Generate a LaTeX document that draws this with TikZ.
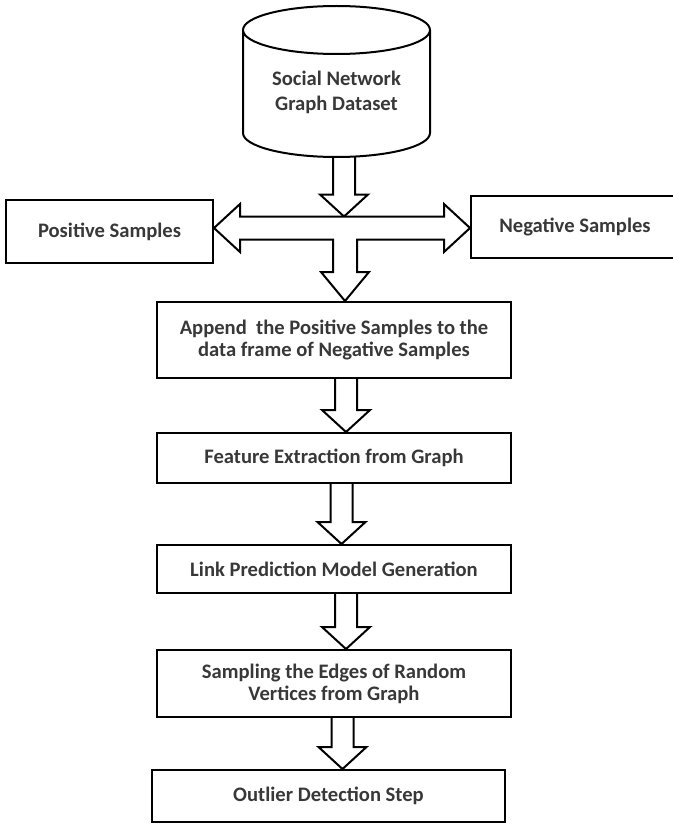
\documentclass[tikz,border=0pt]{standalone}
\usepackage{fontspec}
\setmainfont{Carlito}
\usetikzlibrary{calc,backgrounds}

\tikzset{
  stepbox/.style={draw=black, line width=1pt, rectangle, align=center, inner sep=2pt,
    font=\bfseries\fontsize{10.3}{11}\selectfont, text=black!78},
  dbbox/.style={rectangle, minimum width=93.5pt, minimum height=75.5pt, inner sep=0pt, outer sep=0pt},
  dbtext/.style={align=center, inner sep=0pt,
    font=\bfseries\fontsize{10.3}{12.5}\selectfont, text=black!78},
  fatarrow/.style={draw=black, line width=1pt, fill=white, line join=miter,
    to path={let \p1=(\tikztostart), \p2=(\tikztotarget) in
      (\x1-5.5pt,\y1) -- (\x1-5.5pt,\y2+11pt) -- (\x1-12pt,\y2+11pt) -- (\x1,\y2)
      -- (\x1+12pt,\y2+11pt) -- (\x1+5.5pt,\y2+11pt) -- (\x1+5.5pt,\y1)}}
}

\begin{document}
\begin{tikzpicture}[x=0.5pt,y=-0.5pt]
\useasboundingbox (0,0) rectangle (673,829);
\node[dbbox, anchor=south] (data) at (336.5,157) {};
% dataset drum
\draw[line width=1pt, line join=round] ([yshift=-12pt]data.north west) -- ([yshift=12pt]data.south west)
  arc[start angle=180, end angle=360, x radius=46.75pt, y radius=12pt]
  -- ([yshift=-12pt]data.north east)
  arc[start angle=0, end angle=360, x radius=46.75pt, y radius=12pt];
\node[dbtext] (datalabel) at (336.5,92.5) {Social Network\\Graph Dataset};
\node[stepbox, minimum width=103.5pt, minimum height=31.5pt] (pos) at (109.5,231.5) {Positive Samples};
\node[stepbox, minimum width=104pt, minimum height=31pt] (neg) at (575,227) {Negative Samples};
\node[stepbox, minimum width=177pt, minimum height=38pt] (append) at (334,340) {Append\ \ the Positive Samples to the\\data frame of Negative Samples};
\node[stepbox, minimum width=177pt, minimum height=25pt] (feature) at (334,458) {Feature Extraction from Graph};
\node[stepbox, minimum width=177pt, minimum height=24pt] (link) at (334,569) {Link Prediction Model Generation};
\node[stepbox, minimum width=177pt, minimum height=33.5pt] (sampling) at (334,683.5) {Sampling the Edges of Random\\Vertices from Graph};
\node[stepbox, minimum width=176.5pt, minimum height=26pt] (outlier) at (328.5,796) {Outlier Detection Step};
\coordinate (hub) at (345,228);

\begin{scope}[on background layer]
\draw[fatarrow] ([xshift=3.75pt]data.south) to ([yshift=5.75pt]hub);
% split into both sample sets and down to the merge step
\draw[black, line width=1pt, fill=white, line join=miter]
  let \p1=(hub), \p2=(pos.east), \p3=(neg.west), \p4=(append.north) in
  (\x2,\y1) -- (\x2+13pt,\y1+12pt) -- (\x2+13pt,\y1+5.75pt) -- (\x3-13pt,\y1+5.75pt)
  -- (\x3-13pt,\y1+12pt) -- (\x3,\y1) -- (\x3-13pt,\y1-12pt) -- (\x3-13pt,\y1-5.75pt)
  -- (\x1+6pt,\y1-5.75pt) -- (\x1+6pt,\y4+14.5pt) -- (\x1+12pt,\y4+14.5pt) -- (\x1,\y4)
  -- (\x1-12pt,\y4+14.5pt) -- (\x1-6pt,\y4+14.5pt) -- (\x1-6pt,\y1-5.75pt)
  -- (\x2+13pt,\y1-5.75pt) -- (\x2+13pt,\y1-12pt) -- cycle;
\draw[fatarrow] ([xshift=6pt]append.south) to (feature.north);
\draw[fatarrow] ([xshift=3.75pt]feature.south) to (link.north);
\draw[fatarrow] ([xshift=6pt]link.south) to (sampling.north);
\draw[fatarrow] ([xshift=4.25pt]sampling.south) to (outlier.north);
\end{scope}
\end{tikzpicture}
\end{document}
